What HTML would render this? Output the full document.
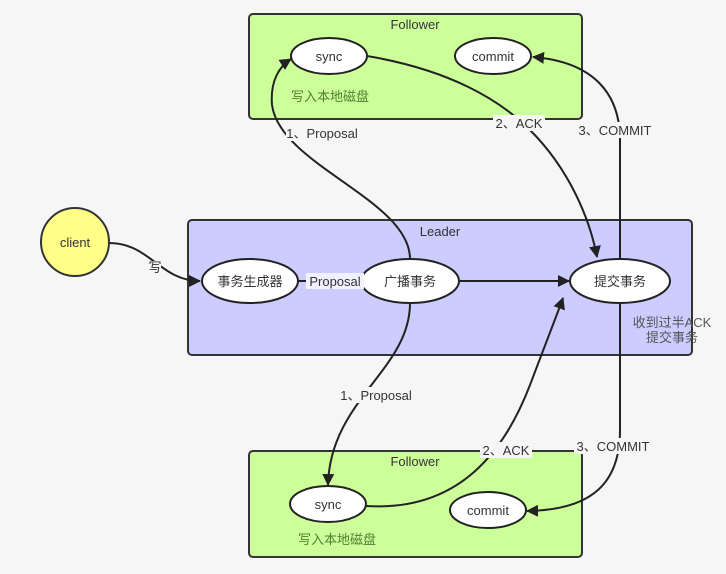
<!DOCTYPE html>
<html><head><meta charset="utf-8"><style>
html,body{margin:0;padding:0;background:#f6f6f6;}
svg{display:block;}
text{font-family:"Liberation Sans","Noto Sans CJK SC",sans-serif;font-size:13px;fill:#333;}
</style></head><body>
<svg width="726" height="574" viewBox="0 0 726 574" xmlns="http://www.w3.org/2000/svg">
<defs>
<marker id="a" markerWidth="12" markerHeight="12" refX="11" refY="6" orient="auto" markerUnits="userSpaceOnUse"><path d="M0,0 L12,6 L0,12 Z" fill="#222"/></marker>
</defs>
<rect x="0" y="0" width="726" height="574" fill="#f6f6f6"/>
<rect x="249" y="14" width="333" height="105" rx="4" fill="#ccff99" stroke="#333" stroke-width="2"/>
<rect x="188" y="220" width="504" height="135" rx="4" fill="#ccccff" stroke="#333" stroke-width="2"/>
<rect x="249" y="451" width="333" height="106" rx="4" fill="#ccff99" stroke="#333" stroke-width="2"/>
<text x="415" y="29" text-anchor="middle">Follower</text>
<text x="440" y="236" text-anchor="middle">Leader</text>
<text x="415" y="466" text-anchor="middle">Follower</text>
<text x="330" y="101" text-anchor="middle" style="fill:#4f7f30">写入本地磁盘</text>
<text x="337" y="544" text-anchor="middle" style="fill:#4f7f30">写入本地磁盘</text>
<text x="672" y="327" text-anchor="middle" style="fill:#555">收到过半ACK</text>
<text x="672" y="342" text-anchor="middle" style="fill:#555">提交事务</text>

<g fill="none" stroke="#222" stroke-width="2">
<path d="M109,243 C150,243 160,281 200,281" marker-end="url(#a)"/>
<path d="M459,281 L569,281" marker-end="url(#a)"/>
<path d="M298,281 L360,281" marker-end="url(#a)"/>
<path d="M410,259 C410,200 280,165 272,105 C270,80 280,66 291,59" marker-end="url(#a)"/>
<path d="M367,56 C450,70 500,100 530,130 C570,170 590,220 597,257" marker-end="url(#a)"/>
<path d="M620,259 L620,140 C620,95 595,62 533,57" marker-end="url(#a)"/>
<path d="M410,303 C410,370 330,400 328,485" marker-end="url(#a)"/>
<path d="M366,506 C460,512 505,450 530,385 C545,345 555,320 563,298" marker-end="url(#a)"/>
<path d="M620,303 L620,430 C620,485 590,510 527,511" marker-end="url(#a)"/>
</g>

<circle cx="75" cy="242" r="34" fill="#ffff88" stroke="#333" stroke-width="2"/>
<text x="75" y="247" text-anchor="middle">client</text>
<g fill="#fff" stroke="#222" stroke-width="2">
<ellipse cx="329" cy="56" rx="38" ry="18"/>
<ellipse cx="493" cy="56" rx="38" ry="18"/>
<ellipse cx="250" cy="281" rx="48" ry="22"/>
<ellipse cx="410" cy="281" rx="49" ry="22"/>
<ellipse cx="620" cy="281" rx="50" ry="22"/>
<ellipse cx="328" cy="504" rx="38" ry="18"/>
<ellipse cx="488" cy="510" rx="38" ry="18"/>
</g>
<text x="329" y="61" text-anchor="middle">sync</text>
<text x="493" y="61" text-anchor="middle">commit</text>
<text x="250" y="286" text-anchor="middle">事务生成器</text>
<text x="410" y="286" text-anchor="middle">广播事务</text>
<text x="620" y="286" text-anchor="middle">提交事务</text>
<text x="328" y="509" text-anchor="middle">sync</text>
<text x="488" y="515" text-anchor="middle">commit</text>

<g>
<rect x="147" y="261" width="14" height="14" fill="#f6f6f6"/>
<text x="155" y="272" text-anchor="middle">写</text>
<rect x="306" y="273" width="58" height="16" fill="#f2f2ff"/>
<text x="335" y="286" text-anchor="middle">Proposal</text>
<rect x="286" y="125" width="72" height="16" fill="#f6f6f6"/>
<text x="322" y="138" text-anchor="middle">1、Proposal</text>
<rect x="493" y="115" width="52" height="16" fill="#f6f6f6"/>
<text x="519" y="128" text-anchor="middle">2、ACK</text>
<rect x="576" y="122" width="80" height="16" fill="#f6f6f6"/>
<text x="615" y="135" text-anchor="middle">3、COMMIT</text>
<rect x="339" y="387" width="74" height="16" fill="#f6f6f6"/>
<text x="376" y="400" text-anchor="middle">1、Proposal</text>
<rect x="480" y="442" width="52" height="16" fill="#f6f6f6"/>
<text x="506" y="455" text-anchor="middle">2、ACK</text>
<rect x="574" y="438" width="80" height="16" fill="#f6f6f6"/>
<text x="613" y="451" text-anchor="middle">3、COMMIT</text>
</g>
</svg>
</body></html>
